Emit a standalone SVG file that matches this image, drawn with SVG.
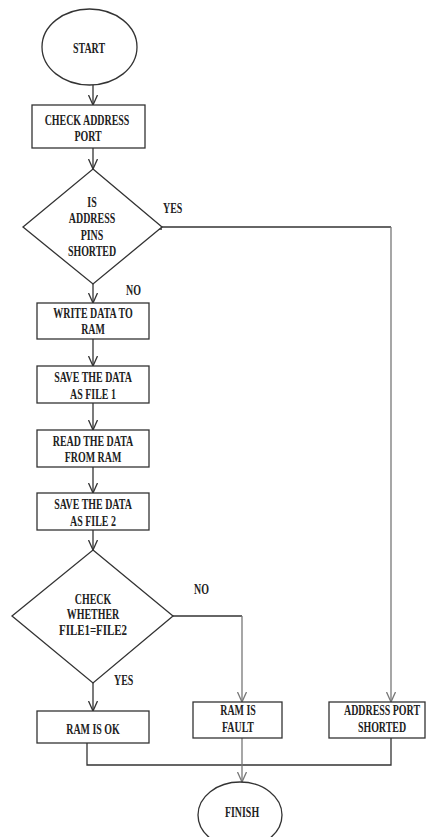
<svg xmlns="http://www.w3.org/2000/svg" width="426" height="837" viewBox="0 0 426 837">
<style>
.shape{fill:#fff;stroke:#333;stroke-width:1.3}
.t{font-family:"Liberation Serif","Times New Roman",serif;font-weight:bold;font-size:14px;fill:#222;text-anchor:middle}
.lbl{font-family:"Liberation Serif","Times New Roman",serif;font-weight:bold;font-size:14px;fill:#222}
.c{fill:none;stroke:#333;stroke-width:1.3}
.cg{fill:none;stroke:#777;stroke-width:1.3}
</style>
<defs>
<marker id="arr" viewBox="0 0 10 10" refX="10" refY="5" markerWidth="10" markerHeight="10" markerUnits="userSpaceOnUse" orient="auto">
<path d="M0,0.5 L10,5 L0,9.5" fill="none" stroke="#333" stroke-width="1.3"/>
</marker>
<marker id="arrg" viewBox="0 0 10 10" refX="10" refY="5" markerWidth="10" markerHeight="10" markerUnits="userSpaceOnUse" orient="auto">
<path d="M0,0.5 L10,5 L0,9.5" fill="none" stroke="#777" stroke-width="1.3"/>
</marker>
</defs>
<g id="connectors">
<line class="c" x1="93" y1="85" x2="93" y2="105" marker-end="url(#arr)"/>
<line class="c" x1="93" y1="148" x2="93" y2="169" marker-end="url(#arr)"/>
<line class="c" x1="93" y1="284" x2="93" y2="303" marker-end="url(#arr)"/>
<line class="c" x1="93" y1="339" x2="93" y2="366" marker-end="url(#arr)"/>
<line class="c" x1="93" y1="403" x2="93" y2="430" marker-end="url(#arr)"/>
<line class="c" x1="93" y1="467" x2="93" y2="493" marker-end="url(#arr)"/>
<line class="c" x1="93" y1="530" x2="93" y2="550" marker-end="url(#arr)"/>
<line class="c" x1="93" y1="683" x2="93" y2="711" marker-end="url(#arr)"/>
<polyline class="c" points="162,227 391,227"/>
<polyline class="cg" points="391,227 391,702" marker-end="url(#arrg)"/>
<path class="c" d="M157,225 L157,229 L162,229" stroke-width="0.8"/>
<polyline class="c" points="173,616 242,616"/>
<polyline class="cg" points="242,616 242,702" marker-end="url(#arrg)"/>
<polyline class="c" points="87,743 87,765 391,765 391,738"/>
<line class="cg" x1="242" y1="738" x2="242" y2="782" marker-end="url(#arrg)"/>
<text class="lbl" transform="matrix(0.71,0,0,1,163,213)">YES</text>
<text class="lbl" transform="matrix(0.71,0,0,1,126,295)">NO</text>
<text class="lbl" transform="matrix(0.71,0,0,1,194,594)">NO</text>
<text class="lbl" transform="matrix(0.71,0,0,1,114,685)">YES</text>
</g>
<g id="start">
<ellipse class="shape" cx="89.5" cy="47" rx="47.5" ry="38"/>
<text class="t" transform="matrix(0.71,0,0,1,89,53)">START</text>
</g>
<g id="check-address">
<rect class="shape" x="32" y="105" width="113" height="43"/>
<text class="t" transform="matrix(0.71,0,0,1,87,125)">CHECK ADDRESS</text>
<text class="t" transform="matrix(0.71,0,0,1,88,141)">PORT</text>
</g>
<g id="is-shorted">
<polygon class="shape" points="93,169 162,227 93,284 23,227"/>
<text class="t" transform="matrix(0.71,0,0,1,92,207)">IS</text>
<text class="t" transform="matrix(0.71,0,0,1,92,223)">ADDRESS</text>
<text class="t" transform="matrix(0.71,0,0,1,92,240)">PINS</text>
<text class="t" transform="matrix(0.71,0,0,1,92,256)">SHORTED</text>
</g>
<g id="write-data">
<rect class="shape" x="37" y="303" width="112" height="36"/>
<text class="t" transform="matrix(0.71,0,0,1,93,318)">WRITE DATA TO</text>
<text class="t" transform="matrix(0.71,0,0,1,93,334)">RAM</text>
</g>
<g id="save-file1">
<rect class="shape" x="37" y="366" width="112" height="37"/>
<text class="t" transform="matrix(0.71,0,0,1,93,382)">SAVE THE DATA</text>
<text class="t" transform="matrix(0.71,0,0,1,93,399)">AS FILE 1</text>
</g>
<g id="read-data">
<rect class="shape" x="37" y="430" width="112" height="37"/>
<text class="t" transform="matrix(0.71,0,0,1,93,446)">READ THE DATA</text>
<text class="t" transform="matrix(0.71,0,0,1,93,462)">FROM RAM</text>
</g>
<g id="save-file2">
<rect class="shape" x="37" y="493" width="112" height="37"/>
<text class="t" transform="matrix(0.71,0,0,1,93,509)">SAVE THE DATA</text>
<text class="t" transform="matrix(0.71,0,0,1,93,526)">AS FILE 2</text>
</g>
<g id="compare">
<polygon class="shape" points="93,550 173,616 93,683 12,616"/>
<text class="t" transform="matrix(0.71,0,0,1,93,604)">CHECK</text>
<text class="t" transform="matrix(0.71,0,0,1,93,619)">WHETHER</text>
<text class="t" transform="matrix(0.78,0,0,1,93,635)">FILE1=FILE2</text>
</g>
<g id="ram-ok">
<rect class="shape" x="37" y="711" width="112" height="32"/>
<text class="t" transform="matrix(0.71,0,0,1,93,734)">RAM IS OK</text>
</g>
<g id="ram-fault">
<rect class="shape" x="193" y="702" width="89" height="36"/>
<text class="t" transform="matrix(0.71,0,0,1,238,715)">RAM IS</text>
<text class="t" transform="matrix(0.71,0,0,1,238,732)">FAULT</text>
</g>
<g id="address-shorted">
<rect class="shape" x="329" y="702" width="96" height="36"/>
<text class="t" transform="matrix(0.71,0,0,1,382,715)">ADDRESS PORT</text>
<text class="t" transform="matrix(0.71,0,0,1,382,732)">SHORTED</text>
</g>
<g id="finish">
<ellipse class="shape" cx="240" cy="815" rx="42" ry="33"/>
<text class="t" transform="matrix(0.71,0,0,1,242,817)">FINISH</text>
</g>
</svg>
